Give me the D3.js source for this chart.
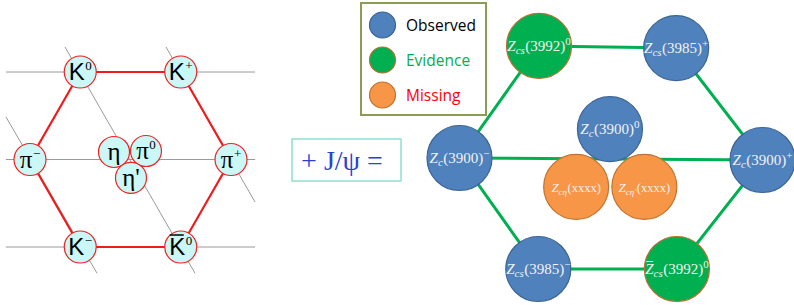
<!DOCTYPE html>
<html><head><meta charset="utf-8">
<script src="https://cdn.jsdelivr.net/npm/d3@7"></script>
<style>body{margin:0;background:#fff}svg{display:block}</style>
</head><body>
<svg id="c" width="794" height="305"></svg>
<script>
// ---- Data ----
// Left: pseudoscalar meson nonet (I3, S lattice coordinates)
const mesonNames = ["K0","K+","π−","π+","K−","K̄0","η","π0","η'"];
const mesonI3    = [-0.5, 0.5, -1, 1, -0.5, 0.5, -0.164, 0.154, 0.005];
const mesonS     = [1, 1, 0, 0, -1, -1, 0.086, 0.097, -0.21];
const mesonBase  = ["K","K","π","π","K","K","η","π","η'"];
const mesonSup   = ["0","+","−","+","−","0","","0",""];
const mesonBar   = [false,false,false,false,false,true,false,false,false];
const mesonSerif = [false,false,true,true,false,false,true,true,true];
const mesonRing  = ["K0","K+","π+","K̄0","K−","π−","K0"];
// gray lattice lines [I3a, Sa, I3b, Sb]
const gridLines = [[-1.24,1,1.24,1],[-1.24,0,1.24,0],[-1.24,-1,1.24,-1],
  [-0.652,1.286,0.642,-1.3],[0.353,1.286,1.239,-0.486],[-1.239,0.486,-0.333,-1.3]];

// Right: charmonium-like Z states
const zNames  = ["Zcs(3992)0","Zcs(3985)+","Zc(3900)−","Zc(3900)+","Zc(3900)0","Zcη","Zcη'","Zcs(3985)−","Z̄cs(3992)0"];
const zI3     = [-0.475, 0.43, -1, 1, -0.007, -0.23, 0.22, -0.48, 0.435];
const zS      = [1.01, 0.99, 0.0, -0.018, 0.26, -0.26, -0.26, -1, -1];
const zStatus = ["Evidence","Observed","Observed","Observed","Observed","Missing","Missing","Observed","Evidence"];
const zSub    = ["cs","cs","c","c","c","cη","cη'","cs","cs"];
const zMass   = ["(3992)","(3985)","(3900)","(3900)","(3900)","(xxxx)","(xxxx)","(3985)","(3992)"];
const zSup    = ["0","+","−","+","0","","","−","0"];
const zBar    = [false,false,false,false,false,false,false,false,true];
const zRing   = ["Zcs(3992)0","Zcs(3985)+","Zc(3900)+","Z̄cs(3992)0","Zcs(3985)−","Zc(3900)−","Zcs(3992)0"];
const zAxis   = ["Zc(3900)−","Zc(3900)+"];

const legendLabels = ["Observed","Evidence","Missing"];
const legendText   = ["#000000","#00b050","#ff0000"];
const statusFill   = {Observed:"#4f81bd",Evidence:"#00b050",Missing:"#f79646"};
const statusStroke = {Observed:"#3a6494",Evidence:"#b8702e",Missing:"#c0732f"};
const middleText = "+ J/ψ =";

// ---- Drawing ----
const svg = d3.select("#c");

// Left panel scales
const xL = d3.scaleLinear().domain([-1,1]).range([30,231]);
const yL = d3.scaleLinear().domain([-1,1]).range([247,72]);
const gL = svg.append("g");
gL.selectAll("line.grid").data(gridLines).join("line")
  .attr("x1",d=>xL(d[0])).attr("y1",d=>yL(d[1]))
  .attr("x2",d=>xL(d[2])).attr("y2",d=>yL(d[3]))
  .attr("stroke","#9a9a9a").attr("stroke-width",1);
const mIdx = n => mesonNames.indexOf(n);
gL.append("path")
  .attr("d", d3.line().x(n=>xL(mesonI3[mIdx(n)])).y(n=>yL(mesonS[mIdx(n)]))(mesonRing))
  .attr("fill","none").attr("stroke","#ee1c1c").attr("stroke-width",2.2);
const mes = gL.selectAll("g.m").data(mesonNames.map((n,i)=>i)).join("g")
  .attr("transform",i=>`translate(${xL(mesonI3[i])},${yL(mesonS[i])})`);
mes.append("circle").attr("r",i=>i>=6?15.5:16)
  .attr("fill","#ccf7f7").attr("stroke","#ee2222").attr("stroke-width",1.2);
mes.each(function(i){
  const g = d3.select(this);
  const serif = mesonSerif[i];
  const t = g.append("text").attr("y",8).attr("text-anchor","middle")
    .attr("font-family", serif ? "Liberation Serif, serif" : "Liberation Sans, Arial, sans-serif")
    .attr("font-size", serif ? 25 : 24).attr("fill","#000");
  t.append("tspan").text(mesonBase[i]);
  if (mesonSup[i]) t.append("tspan").attr("dy",-10).attr("dx",0.5)
      .attr("font-family","Liberation Serif, serif")
      .attr("font-size", 13).text(mesonSup[i]);
  if (mesonBar[i]) g.append("line").attr("x1",-11).attr("x2",3).attr("y1",-12).attr("y2",-12)
      .attr("stroke","#000").attr("stroke-width",1.5);
});

// Middle box
const gm = svg.append("g");
gm.append("rect").attr("x",292).attr("y",139).attr("width",109).attr("height",42)
  .attr("fill","#fff").attr("stroke","#8fe0cf").attr("stroke-width",1.5);
gm.append("text").attr("x",342).attr("y",170).attr("text-anchor","middle")
  .attr("font-family","Liberation Serif, Times New Roman, serif").attr("font-size",28)
  .attr("fill","#2b3fd6").attr("xml:space","preserve").text(middleText);

// Right panel scales
const xR = d3.scaleLinear().domain([-1,1]).range([459.5,762.5]);
const yR = d3.scaleLinear().domain([-1,1]).range([269,47]);
const gR = svg.append("g");
const zIdx = n => zNames.indexOf(n);
const lineR = d3.line().x(n=>xR(zI3[zIdx(n)])).y(n=>yR(zS[zIdx(n)]));
gR.append("path").attr("d",lineR(zRing)).attr("fill","none")
  .attr("stroke","#00b050").attr("stroke-width",3);
gR.append("path").attr("d",lineR(zAxis)).attr("fill","none")
  .attr("stroke","#00b050").attr("stroke-width",3);
const zs = gR.selectAll("g.z").data(zNames.map((n,i)=>i)).join("g")
  .attr("transform",i=>`translate(${xR(zI3[i])},${yR(zS[i])})`);
zs.append("circle").attr("r",32.5)
  .attr("fill",i=>statusFill[zStatus[i]]).attr("stroke",i=>statusStroke[zStatus[i]]).attr("stroke-width",1.2);
zs.each(function(i){
  const g = d3.select(this);
  const small = zStatus[i]==="Missing";
  const t = g.append("text").attr("y",5).attr("text-anchor","middle")
    .attr("font-family","Liberation Serif, Cambria, serif").attr("font-size",small?13:15)
    .attr("fill","#f2f2f2");
  t.append("tspan").attr("font-style","italic").text("Z");
  t.append("tspan").attr("font-style","italic").attr("dy",3).attr("font-size",small?9:11).text(zSub[i]);
  t.append("tspan").attr("dy",-3).attr("dx",0.5).attr("font-size",small?12.5:15).text(zMass[i]);
  if (zSup[i]) t.append("tspan").attr("dy",-6).attr("font-size",11).text(zSup[i]);
  if (zBar[i]) {
    const bb = t.node().getBBox();
    g.append("line").attr("x1",bb.x+1).attr("x2",bb.x+8).attr("y1",-7.5).attr("y2",-7.5)
      .attr("stroke","#f2f2f2").attr("stroke-width",1);
  }
});

// Legend
const gLeg = svg.append("g");
gLeg.append("rect").attr("x",361).attr("y",3).attr("width",125).attr("height",112)
  .attr("fill","#fff").attr("stroke","#8b9c56").attr("stroke-width",2);
const legY = d3.scalePoint().domain(legendLabels).range([25,95]);
const li = gLeg.selectAll("g.l").data(legendLabels).join("g")
  .attr("transform",d=>`translate(0,${legY(d)})`);
li.append("circle").attr("cx",382.5).attr("r",13)
  .attr("fill",d=>statusFill[d]).attr("stroke",d=>statusStroke[d]).attr("stroke-width",1.2);
li.append("text").attr("x",406).attr("y",6).attr("font-family","Open Sans, Noto Sans, sans-serif")
  .attr("font-size",15.5).attr("fill",(d,i)=>legendText[i]).text(d=>d);
</script>
</body></html>
